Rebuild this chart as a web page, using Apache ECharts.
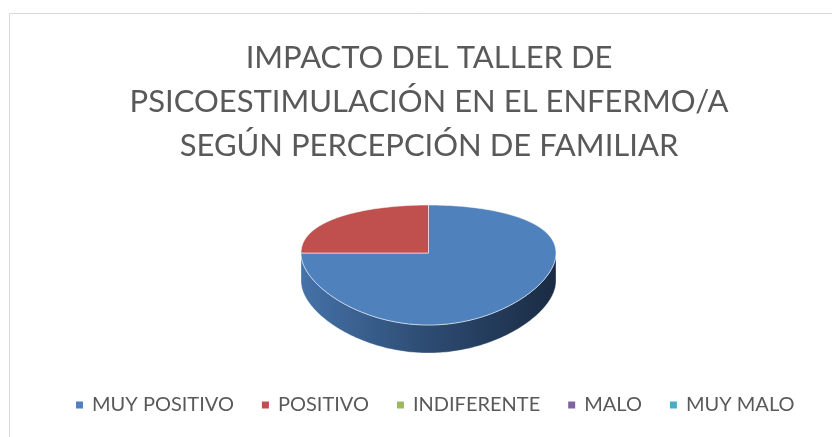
<!DOCTYPE html>
<html>
<head>
<meta charset="utf-8">
<script src="https://cdn.jsdelivr.net/npm/echarts@6/dist/echarts.min.js"></script>
<style>
  html, body { margin: 0; padding: 0; background: #fff; }
  #chart { width: 832px; height: 437px; }
</style>
</head>
<body>
<div id="chart"></div>
<script>
// datos
const categories = ['MUY POSITIVO', 'POSITIVO', 'INDIFERENTE', 'MALO', 'MUY MALO']
const values = [75, 25, 0, 0, 0]
const colors = ['#4F81BD', '#C0504D', '#9BBB59', '#8064A2', '#4BACC6']
const sideColors = [
  ['#4572a8', '#2d4b72', '#1a2b43'],
  ['#a94441', '#7a302e', '#4d1e1d'],
  ['#8aa64f', '#627637', '#3d4a22'],
  ['#71598f', '#514066', '#332840'],
  ['#4299b0', '#2f6e7e', '#1d454f']
]

const total = values.reduce((a, b) => a + b, 0)

// geometría de la tarta en perspectiva
const cx = 428.5, cy = 253, rx = 127.5, ryB = 57.6, persp = -0.2, depth = 28

const pt = (deg) => {
  const t = deg * Math.PI / 180
  const u = Math.sin(t)
  const v = -Math.cos(t)
  const s = 1 / (1 + persp * v)
  return [cx + rx * u, cy + ryB * v * s]
}

const arc = (a, b) => {
  const pts = []
  const n = Math.max(2, Math.ceil(Math.abs(b - a)))
  for (let i = 0; i <= n; i++) pts.push(pt(a + (b - a) * i / n))
  return pts
}

const renderSlice = (params, api) => {
  const idx = params.seriesIndex
  const val = api.value(0)
  if (!val) return { type: 'group', children: [] }
  let before = 0
  for (let i = 0; i < idx; i++) before += values[i]
  const a = before / total * 360
  const b = (before + val) / total * 360
  const children = []

  // pared lateral (solo la mitad frontal, 90..270)
  const sa = Math.max(a, 90), sb = Math.min(b, 270)
  if (sb > sa) {
    const top = arc(sa, sb)
    const bottom = top.map(p => [p[0], p[1] + depth]).reverse()
    const sc = sideColors[idx]
    children.push({
      type: 'polygon',
      shape: { points: top.concat(bottom) },
      style: {
        fill: {
          type: 'linear', x: 0, y: 0, x2: 1, y2: 0,
          colorStops: [
            { offset: 0, color: sc[0] },
            { offset: 0.5, color: sc[1] },
            { offset: 1, color: sc[2] }
          ]
        },
        stroke: 'rgba(255,255,255,0.35)',
        lineWidth: 1
      }
    })
  }

  // cara superior
  children.push({
    type: 'polygon',
    shape: { points: [[cx, cy]].concat(arc(a, b)) },
    style: {
      fill: colors[idx],
      stroke: 'rgba(255,255,255,0.55)',
      lineWidth: 1
    }
  })
  return { type: 'group', children }
}

const chart = echarts.init(document.getElementById('chart'))

chart.setOption({
  backgroundColor: '#fff',
  animation: false,
  title: {
    text: 'IMPACTO DEL TALLER DE\nPSICOESTIMULACIÓN EN EL ENFERMO/A\nSEGÚN PERCEPCIÓN DE FAMILIAR',
    left: 424,
    textAlign: 'center',
    top: 31,
    textStyle: {
      fontFamily: 'Lato',
      fontSize: 31,
      fontWeight: 'normal',
      lineHeight: 44,
      color: '#595959'
    }
  },
  legend: {
    left: 76,
    top: 395,
    padding: 0,
    icon: 'rect',
    itemWidth: 7,
    itemHeight: 7,
    itemGap: 28,
    textStyle: {
      fontFamily: 'Lato',
      fontSize: 20,
      color: '#595959',
      padding: [0, 0, 0, 4]
    },
    data: categories
  },
  graphic: [{
    type: 'rect',
    silent: true,
    z: -10,
    shape: { x: 9.5, y: 13.5, width: 830, height: 430 },
    style: { fill: 'none', stroke: '#d9d9d9', lineWidth: 1 }
  }],
  series: categories.map((name, i) => ({
    name,
    type: 'custom',
    coordinateSystem: 'none',
    renderItem: renderSlice,
    itemStyle: { color: colors[i] },
    data: [[values[i]]]
  }))
})
</script>
</body>
</html>
